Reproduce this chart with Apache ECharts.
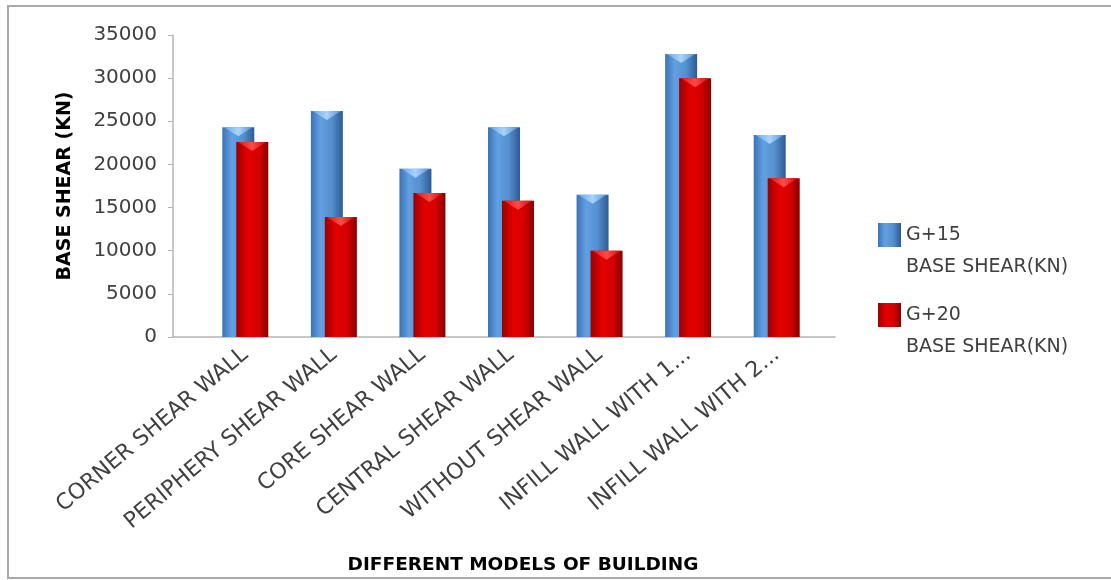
<!DOCTYPE html>
<html>
<head>
<meta charset="utf-8">
<script src="https://cdn.jsdelivr.net/npm/echarts@6/dist/echarts.min.js"></script>
<style>
  html, body { margin: 0; padding: 0; background: #ffffff; }
  #chart { width: 1111px; height: 580px; }
</style>
</head>
<body>
<div id="chart"></div>
<script>
// Base shear of building models, G+15 vs G+20
const categories = [
  'CORNER SHEAR WALL',
  'PERIPHERY SHEAR WALL',
  'CORE SHEAR WALL',
  'CENTRAL SHEAR WALL',
  'WITHOUT SHEAR WALL',
  'INFILL WALL WITH 1...',
  'INFILL WALL WITH 2...'
];
const seriesNames = ['G+15\nBASE SHEAR(KN)', 'G+20\nBASE SHEAR(KN)'];
const g15Shear = [24300, 26200, 19500, 24300, 16500, 32800, 23400];
const g20Shear = [22600, 13900, 16700, 15800, 10000, 30000, 18400];
const yTicks = { min: 0, max: 35000, interval: 5000 };

const TEXT = '#404040';
const AXIS = '#b4b4b4';
const FONT = 'DejaVu Sans';

function hGrad(stops) {
  return new echarts.graphic.LinearGradient(0, 0, 1, 0,
    stops.map(function (s) { return { offset: s[0], color: s[1] }; }));
}

const blueBody = hGrad([[0, '#3a73b6'], [0.3, '#62a0e2'], [0.65, '#5590d0'], [1, '#2d5b94']]);
const blueCap = hGrad([[0, '#6aaaea'], [0.5, '#a6d4fa'], [1, '#5694d4']]);
const redBody = hGrad([[0, '#9a0000'], [0.35, '#e40000'], [0.7, '#d40000'], [1, '#880000']]);
const redCap = hGrad([[0, '#e21a1a'], [0.5, '#ff4a4a'], [1, '#c80a0a']]);

// draws a bevelled column: body plus a light chevron on its top
function columnRenderer(offset, width, body, cap) {
  return function (params, api) {
    const idx = api.value(0);
    const top = api.coord([idx, api.value(1)]);
    const base = api.coord([idx, 0]);
    const x0 = top[0] + offset;
    const h = base[1] - top[1];
    const notch = Math.min(9, h);
    return {
      type: 'group',
      children: [
        { type: 'rect', shape: { x: x0, y: top[1], width: width, height: h }, style: { fill: body } },
        {
          type: 'polygon',
          shape: { points: [[x0 + 2, top[1]], [x0 + width - 2, top[1]], [x0 + width / 2, top[1] + notch]] },
          style: { fill: cap }
        }
      ]
    };
  };
}

function toPoints(values) {
  return values.map(function (v, i) { return [i, v]; });
}

const chart = echarts.init(document.getElementById('chart'), null, { renderer: 'canvas' });

chart.setOption({
  backgroundColor: '#ffffff',
  animation: false,
  graphic: [{
    // chart frame: open on the right, running past the page edge
    type: 'polyline',
    z: -1,
    shape: { points: [[1130, 6], [8, 6], [8, 578], [1130, 578]] },
    style: { fill: 'none', stroke: '#a8a8a8', lineWidth: 2 }
  }],
  legend: {
    orient: 'vertical',
    left: 873,
    top: 182,
    itemWidth: 23,
    itemHeight: 24,
    itemGap: -16,
    icon: 'rect',
    data: seriesNames,
    // a leading blank line puts the first text line level with the icon
    formatter: function (name) { return ' \n' + name; },
    textStyle: { color: TEXT, fontFamily: FONT, fontSize: 19, lineHeight: 32 }
  },
  grid: [
    { left: 173, right: 276, top: 35, bottom: 243 },
    { left: 201, right: 290, top: 35, bottom: 243 }
  ],
  xAxis: [
    {
      gridIndex: 0, type: 'category', data: categories,
      axisLine: { show: true, lineStyle: { color: AXIS, width: 1.5 } },
      axisTick: { show: false }, axisLabel: { show: false }
    },
    {
      gridIndex: 1, type: 'category', data: categories,
      axisLine: { show: false }, axisTick: { show: false },
      axisLabel: { rotate: 40, margin: 15, color: TEXT, fontFamily: FONT, fontSize: 22, interval: 0 },
      name: 'DIFFERENT MODELS OF BUILDING',
      nameLocation: 'middle', nameGap: 219,
      nameTextStyle: { color: '#000000', fontFamily: FONT, fontSize: 18.5, fontWeight: 'bold', padding: [0, 0, 0, 24] }
    }
  ],
  yAxis: [
    {
      gridIndex: 0, type: 'value', min: yTicks.min, max: yTicks.max, interval: yTicks.interval,
      axisLine: { show: true, lineStyle: { color: AXIS, width: 1.5 } },
      axisTick: { show: true, length: 5, lineStyle: { color: AXIS } },
      splitLine: { show: false },
      axisLabel: { color: TEXT, fontFamily: FONT, fontSize: 20, margin: 16, formatter: function (v) { return String(v); } },
      name: 'BASE SHEAR (KN)', nameLocation: 'middle', nameGap: 98,
      nameTextStyle: { color: '#000000', fontFamily: FONT, fontSize: 19, fontWeight: 'bold' }
    },
    {
      gridIndex: 1, type: 'value', min: yTicks.min, max: yTicks.max, interval: yTicks.interval,
      show: false, splitLine: { show: false }
    }
  ],
  series: [
    {
      name: seriesNames[0], type: 'custom', xAxisIndex: 1, yAxisIndex: 1,
      itemStyle: { color: blueBody },
      encode: { x: 0, y: 1 },
      renderItem: columnRenderer(-23, 32, blueBody, blueCap),
      data: toPoints(g15Shear)
    },
    {
      name: seriesNames[1], type: 'custom', xAxisIndex: 1, yAxisIndex: 1,
      itemStyle: { color: redBody },
      encode: { x: 0, y: 1 },
      renderItem: columnRenderer(-9, 32, redBody, redCap),
      data: toPoints(g20Shear)
    }
  ]
});
</script>
</body>
</html>
